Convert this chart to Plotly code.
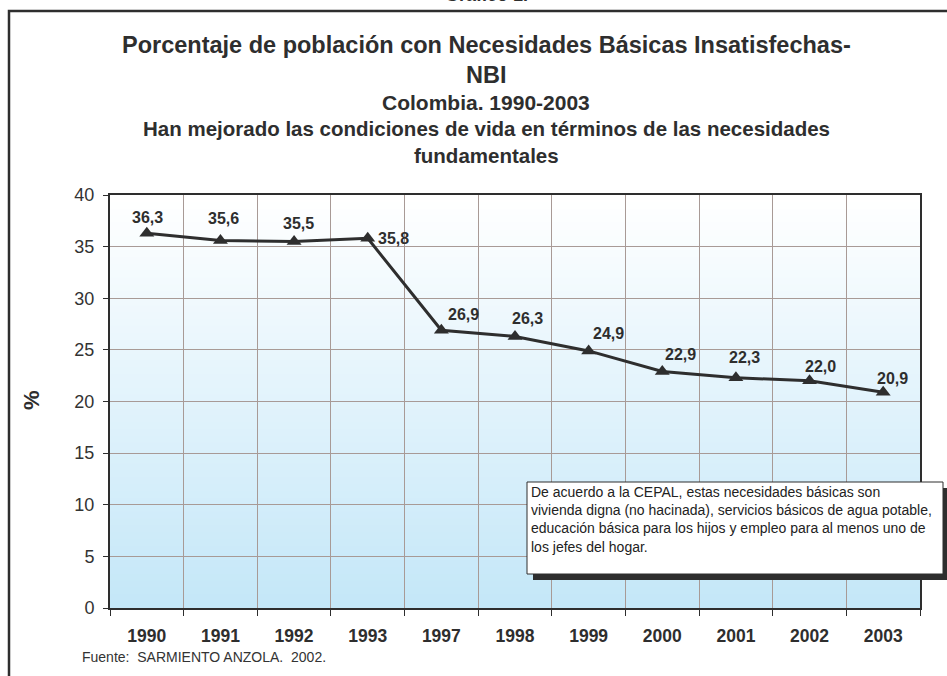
import plotly.graph_objects as go

# data
years = ["1990", "1991", "1992", "1993", "1997", "1998", "1999", "2000", "2001", "2002", "2003"]
nbi = [36.3, 35.6, 35.5, 35.8, 26.9, 26.3, 24.9, 22.9, 22.3, 22.0, 20.9]
labels = ["36,3", "35,6", "35,5", "35,8", "26,9", "26,3", "24,9", "22,9", "22,3", "22,0", "20,9"]

title_lines = [
    "Porcentaje de población con Necesidades Básicas Insatisfechas-",
    "NBI",
    "Colombia. 1990-2003",
    "Han mejorado las condiciones de vida en términos de las necesidades",
    "fundamentales",
]
note = ("De acuerdo a la CEPAL, estas necesidades básicas son<br>"
        "vivienda digna (no hacinada), servicios básicos de agua potable,<br>"
        "educación básica para los hijos y empleo para al menos uno de<br>"
        "los jefes del hogar.")
source = "Fuente:  SARMIENTO ANZOLA.  2002."

W, H = 947, 676
L, R, T, B = 110, 27, 195, 68
PW, PH = W - L - R, H - T - B
DARK = "#2e2e2e"
FONT = "Liberation Sans, Arial, sans-serif"

# label offsets in pixels (right, up) as placed in the original chart
lab_dx = [1, 3, 4, 26, 22, 12, 20, 18, 9, 11, 9]
lab_dy = [16, 22, 18, 0, 16, 18, 17, 17, 20, 14, 14]


def px(x):
    return (x - L) / PW


def py(y):
    return (H - B - y) / PH


fig = go.Figure()
fig.add_trace(go.Scatter(
    x=years, y=nbi, mode="lines+markers",
    line=dict(color=DARK, width=3),
    marker=dict(symbol="triangle-up", size=13, color=DARK),
    cliponaxis=False, showlegend=False,
))

shapes = []
# gradient plot background
n = 60
top, bot = (255, 255, 255), (196, 231, 248)
for i in range(n):
    t = i / (n - 1)
    c = tuple(round(bot[k] + (top[k] - bot[k]) * t) for k in range(3))
    shapes.append(dict(type="rect", xref="x domain", yref="y domain",
                       x0=0, x1=1, y0=i / n, y1=(i + 1) / n + 0.002,
                       fillcolor="rgb(%d,%d,%d)" % c, line=dict(width=0), layer="below"))

# outer frame
shapes.append(dict(type="rect", xref="paper", yref="paper",
                   x0=px(9), x1=px(960), y0=py(700), y1=py(11),
                   line=dict(color=DARK, width=2.5), fillcolor="rgba(0,0,0,0)"))
# note box with shadow
shapes.append(dict(type="rect", xref="paper", yref="paper",
                   x0=px(533), x1=px(948), y0=py(580), y1=py(488),
                   fillcolor=DARK, line=dict(width=0)))
shapes.append(dict(type="rect", xref="paper", yref="paper",
                   x0=px(527), x1=px(943), y0=py(574), y1=py(482),
                   fillcolor="white", line=dict(color=DARK, width=1)))

ann = []
# category axis: annotations use the category index
for i, (v, lab, dx, dy) in enumerate(zip(nbi, labels, lab_dx, lab_dy)):
    ann.append(dict(text=lab, xref="x", yref="y", x=i, y=v, xshift=dx, yshift=dy,
                    xanchor="center", yanchor="middle", showarrow=False,
                    font=dict(family=FONT, size=16, color=DARK, weight="bold")))

title_y = [45, 75, 102, 128, 155]
title_size = [23.5, 23.5, 21, 20.5, 20.5]
for txt, yy, sz in zip(title_lines, title_y, title_size):
    ann.append(dict(text=txt, xref="paper", yref="paper", x=px(486), y=py(yy),
                    xanchor="center", yanchor="middle", showarrow=False,
                    font=dict(family=FONT, size=sz, color=DARK, weight="bold")))
ann.append(dict(text="Gráfico 1.", xref="paper", yref="paper", x=px(486), y=py(7),
                xanchor="center", yanchor="bottom", showarrow=False,
                font=dict(family=FONT, size=18, color=DARK, weight="bold")))
ann.append(dict(text="%", xref="paper", yref="paper", x=px(31), y=py(400),
                xanchor="center", yanchor="middle",
                textangle=-90, showarrow=False,
                font=dict(family=FONT, size=22, color=DARK, weight="bold")))
ann.append(dict(text=note, xref="paper", yref="paper", x=px(529), y=py(482),
                xanchor="left", yanchor="top", align="left", showarrow=False,
                font=dict(family=FONT, size=14, color="#222")))
ann.append(dict(text=source, xref="paper", yref="paper", x=px(80), y=py(657),
                xanchor="left", yanchor="middle", showarrow=False,
                font=dict(family=FONT, size=14, color="#333")))

fig.update_layout(
    width=W, height=H,
    margin=dict(l=L, r=R, t=T, b=B),
    paper_bgcolor="white", plot_bgcolor="white",
    font=dict(family=FONT, color="#333"),
    shapes=shapes, annotations=ann,
    xaxis=dict(type="category", range=[-0.5, len(years) - 0.5],
               tickson="boundaries", showgrid=True,
               gridcolor="#a89a96", gridwidth=1,
               ticks="outside", ticklen=6, tickcolor=DARK,
               showline=True, linecolor=DARK, linewidth=2, mirror=True,
               ticklabelstandoff=11,
               tickfont=dict(family=FONT, size=17.5, color=DARK, weight="bold")),
    yaxis=dict(range=[0, 40], dtick=5, showgrid=True,
               gridcolor="#a89a96", gridwidth=1, zeroline=False,
               ticks="outside", ticklen=5, tickcolor=DARK,
               showline=True, linecolor=DARK, linewidth=2, mirror=True,
               ticklabelstandoff=5,
               tickfont=dict(family=FONT, size=18, color="#333")),
)

fig.write_html("out.html", config={"displayModeBar": False},
               post_script="document.body.style.margin='0';")
